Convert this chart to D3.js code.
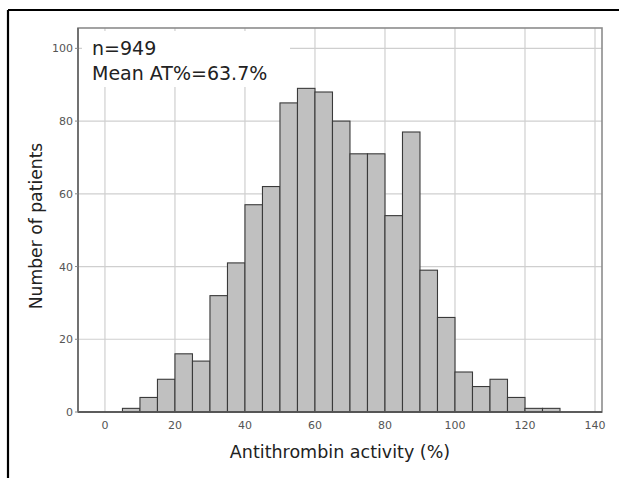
<!DOCTYPE html>
<html lang="en">
<head>
  <meta charset="UTF-8" />
  <title>Antithrombin activity histogram</title>
  <style>
    body { margin: 0; background: #fff; }
    svg { display: block; font-family: 'DejaVu Sans', Verdana, sans-serif; }
    .grid line { stroke: #cfcfcf; stroke-width: 1.2; }
    .tick-label { fill: #555; font-size: 11px; }
  </style>
</head>
<body>
  <svg id="chart" width="619" height="478"></svg>

  <script src="https://d3js.org/d3.v7.min.js"></script>
  <script>
    // bins are 5% wide, starting at 5%
    const binStarts = [5, 10, 15, 20, 25, 30, 35, 40, 45, 50, 55, 60, 65,
                       70, 75, 80, 85, 90, 95, 100, 105, 110, 115, 120, 125];
    const counts = [1, 4, 9, 16, 14, 32, 41, 57, 62, 85, 89, 88, 80,
                    71, 71, 54, 77, 39, 26, 11, 7, 9, 4, 1, 1];
    const binWidth = 5;
    const xTicks = [0, 20, 40, 60, 80, 100, 120, 140];
    const yTicks = [0, 20, 40, 60, 80, 100];
    const notes = ["n=949", "Mean AT%=63.7%"];

    const svg = d3.select("#chart");
    const margin = { top: 28, right: 17, bottom: 66, left: 78 };
    const width = +svg.attr("width");
    const height = +svg.attr("height");

    const x = d3.scaleLinear()
                .domain([-7.7, 142])
                .range([margin.left, width - margin.right]);
    const y = d3.scaleLinear()
                .domain([0, 105.6])
                .range([height - margin.bottom, margin.top]);

    // outer frame (top and left only)
    svg.append("line")
       .attr("x1", 8).attr("x2", width).attr("y1", 10).attr("y2", 10)
       .attr("stroke", "#000").attr("stroke-width", 2.2);
    svg.append("line")
       .attr("x1", 8).attr("x2", 8).attr("y1", 10).attr("y2", height)
       .attr("stroke", "#000").attr("stroke-width", 2.2);

    // gridlines
    const grid = svg.append("g").attr("class", "grid");
    grid.selectAll(".vx")
        .data(xTicks)
        .enter().append("line")
        .attr("x1", d => x(d)).attr("x2", d => x(d))
        .attr("y1", y.range()[1]).attr("y2", y.range()[0]);
    grid.selectAll(".hy")
        .data(yTicks.filter(d => d > 0))
        .enter().append("line")
        .attr("x1", x.range()[0]).attr("x2", x.range()[1])
        .attr("y1", d => y(d)).attr("y2", d => y(d));

    // white box behind the annotation hides the grid there
    svg.append("rect")
       .attr("x", x.range()[0] + 4)
       .attr("y", y.range()[1] + 3)
       .attr("width", 208)
       .attr("height", 56)
       .attr("fill", "#fff");

    // bars
    svg.append("g")
       .selectAll("rect")
       .data(binStarts.map((s, i) => ({ start: s, count: counts[i] })))
       .enter().append("rect")
       .attr("x", d => x(d.start))
       .attr("y", d => y(d.count))
       .attr("width", d => x(d.start + binWidth) - x(d.start))
       .attr("height", d => y(0) - y(d.count))
       .attr("fill", "#c0c0c0")
       .attr("stroke", "#3a3a3a")
       .attr("stroke-width", 1.1);

    // plot frame
    svg.append("rect")
       .attr("x", x.range()[0])
       .attr("y", y.range()[1])
       .attr("width", x.range()[1] - x.range()[0])
       .attr("height", y.range()[0] - y.range()[1])
       .attr("fill", "none")
       .attr("stroke", "#8c8c8c")
       .attr("stroke-width", 1.6);

    // axis lines
    svg.append("line")
       .attr("x1", x.range()[0]).attr("x2", x.range()[1])
       .attr("y1", y(0)).attr("y2", y(0))
       .attr("stroke", "#444").attr("stroke-width", 1.6);
    svg.append("line")
       .attr("x1", x.range()[0]).attr("x2", x.range()[0])
       .attr("y1", y.range()[1]).attr("y2", y(0))
       .attr("stroke", "#666").attr("stroke-width", 1.6);

    // y ticks + labels
    svg.selectAll(".ytick")
       .data(yTicks)
       .enter().append("line")
       .attr("x1", x.range()[0] - 3).attr("x2", x.range()[0])
       .attr("y1", d => y(d)).attr("y2", d => y(d))
       .attr("stroke", "#888");
    svg.selectAll(".ylab")
       .data(yTicks)
       .enter().append("text")
       .attr("class", "tick-label")
       .attr("x", x.range()[0] - 5)
       .attr("y", d => y(d) + 4)
       .attr("text-anchor", "end")
       .text(d => d);

    // x labels
    svg.selectAll(".xlab")
       .data(xTicks)
       .enter().append("text")
       .attr("class", "tick-label")
       .attr("x", d => x(d))
       .attr("y", y(0) + 17)
       .attr("text-anchor", "middle")
       .text(d => d);

    // axis titles
    svg.append("text")
       .attr("x", (x.range()[0] + x.range()[1]) / 2)
       .attr("y", 458)
       .attr("text-anchor", "middle")
       .attr("fill", "#222")
       .attr("font-size", 17.5)
       .text("Antithrombin activity (%)");
    svg.append("text")
       .attr("transform", "translate(42, 226) rotate(-90)")
       .attr("text-anchor", "middle")
       .attr("fill", "#222")
       .attr("font-size", 17.2)
       .text("Number of patients");

    // annotation
    svg.selectAll(".note")
       .data(notes)
       .enter().append("text")
       .attr("x", 92)
       .attr("y", (d, i) => 55 + i * 25)
       .attr("fill", "#222")
       .attr("font-size", 19)
       .text(d => d);
  </script>
</body>
</html>
